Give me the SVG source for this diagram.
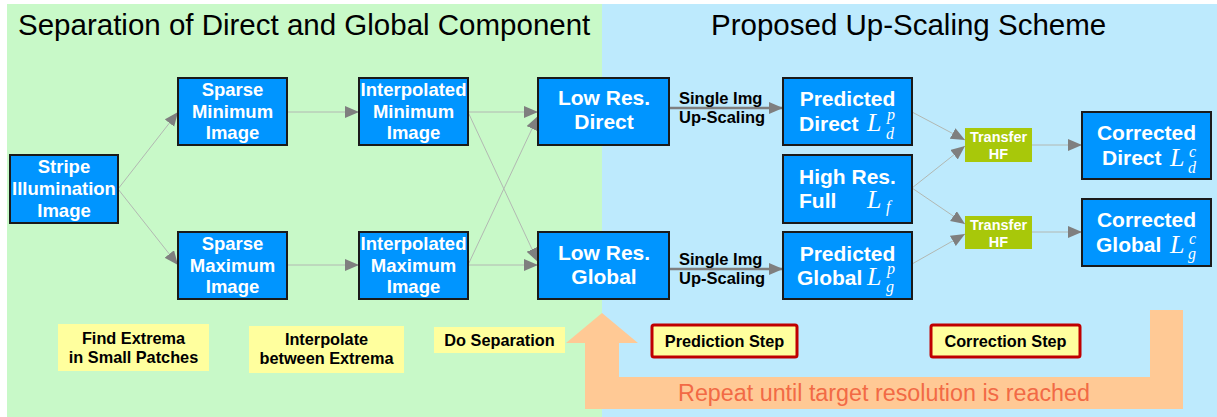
<svg xmlns="http://www.w3.org/2000/svg" width="1217" height="417" viewBox="0 0 1217 417">
<defs>
<style>
.title{font-family:"Liberation Sans",Arial,sans-serif;font-size:29.5px;fill:#000}
.node rect{fill:#0095ff;stroke:#1a1a1a;stroke-width:2}
.nt{font-family:"Liberation Sans",Arial,sans-serif;font-weight:bold;font-size:18.5px;fill:#fff;text-anchor:middle}
.nt2{font-family:"Liberation Sans",Arial,sans-serif;font-weight:bold;font-size:21px;fill:#fff}
.math{font-family:"Liberation Serif","Times New Roman",serif;font-style:italic;fill:#fff}
.tf rect{fill:#a8c80a}
.tft{font-family:"Liberation Sans",Arial,sans-serif;font-weight:bold;font-size:14.5px;fill:#fff;text-anchor:middle}
.note rect{fill:#ffff9e}
.nb{font-family:"Liberation Sans",Arial,sans-serif;font-weight:bold;font-size:16.3px;fill:#000;text-anchor:middle}
.step rect{fill:#ffff9e;stroke:#c00000;stroke-width:3}
.thin{stroke:#b2b8b2;stroke-width:1;fill:none}
.thick{stroke:#7f7f7f;stroke-width:2.5;fill:none}
.lbl{font-family:"Liberation Sans",Arial,sans-serif;font-weight:bold;font-size:16.5px;fill:#000}
</style>
<marker id="ah" markerUnits="userSpaceOnUse" markerWidth="15" markerHeight="13" refX="14" refY="6" orient="auto">
<path d="M0,0 L14,6 L0,12 z" fill="#7f7f7f"/>
</marker>
</defs>
<rect x="0" y="0" width="1217" height="417" fill="#fff"/>
<rect x="7" y="4" width="595" height="413" fill="#c8f9c8"/>
<rect x="602" y="4" width="615" height="413" fill="#bdeafd"/>
<text class="title" x="18" y="35">Separation of Direct and Global Component</text>
<text class="title" x="711" y="35">Proposed Up-Scaling Scheme</text>

<g id="repeat-arrow">
<polygon points="602,313 638,343 619,343 619,377 1150,377 1150,310 1183,310 1183,409 585,409 585,343 566,343" fill="#ffc995"/>
<text x="884" y="401" font-family="'Liberation Sans',Arial,sans-serif" font-size="23.3" fill="#f26a45" text-anchor="middle">Repeat until target resolution is reached</text>
</g>

<g id="connectors">
<line class="thin" x1="118" y1="189" x2="178" y2="112" marker-end="url(#ah)"/>
<line class="thin" x1="118" y1="189" x2="178" y2="265" marker-end="url(#ah)"/>
<line class="thin" x1="287" y1="112" x2="359" y2="112" marker-end="url(#ah)"/>
<line class="thin" x1="287" y1="265" x2="359" y2="265" marker-end="url(#ah)"/>
<line class="thin" x1="468" y1="112" x2="538" y2="112" marker-end="url(#ah)"/>
<line class="thin" x1="468" y1="112" x2="538" y2="262" marker-end="url(#ah)"/>
<line class="thin" x1="468" y1="265" x2="538" y2="116" marker-end="url(#ah)"/>
<line class="thin" x1="468" y1="265" x2="538" y2="265" marker-end="url(#ah)"/>
<line class="thick" x1="669" y1="108" x2="783" y2="108" marker-end="url(#ah)"/>
<line class="thick" x1="669" y1="269" x2="783" y2="269" marker-end="url(#ah)"/>
<line class="thin" x1="912" y1="112" x2="965" y2="140" marker-end="url(#ah)"/>
<line class="thin" x1="912" y1="188" x2="965" y2="146" marker-end="url(#ah)"/>
<line class="thin" x1="912" y1="188" x2="965" y2="224" marker-end="url(#ah)"/>
<line class="thin" x1="912" y1="264" x2="965" y2="234" marker-end="url(#ah)"/>
<line class="thin" x1="1032" y1="145" x2="1082" y2="145" marker-end="url(#ah)"/>
<line class="thin" x1="1032" y1="232" x2="1082" y2="232" marker-end="url(#ah)"/>
<text class="lbl" x="679" y="104">Single Img</text>
<text class="lbl" x="679" y="123">Up-Scaling</text>
<text class="lbl" x="679" y="265">Single Img</text>
<text class="lbl" x="679" y="284">Up-Scaling</text>
</g>

<g id="stripe" class="node"><rect x="10" y="155" width="108" height="68"/>
<text class="nt" x="64" y="173">Stripe</text><text class="nt" x="64" y="195">Illumination</text><text class="nt" x="64" y="217">Image</text></g>
<g id="sparse-min" class="node"><rect x="178" y="78" width="109" height="67"/>
<text class="nt" x="232.5" y="96">Sparse</text><text class="nt" x="232.5" y="118">Minimum</text><text class="nt" x="232.5" y="139">Image</text></g>
<g id="sparse-max" class="node"><rect x="178" y="232" width="109" height="67"/>
<text class="nt" x="232.5" y="250">Sparse</text><text class="nt" x="232.5" y="272">Maximum</text><text class="nt" x="232.5" y="293">Image</text></g>
<g id="interp-min" class="node"><rect x="359" y="78" width="109" height="67"/>
<text class="nt" x="413.5" y="96">Interpolated</text><text class="nt" x="413.5" y="118">Minimum</text><text class="nt" x="413.5" y="139">Image</text></g>
<g id="interp-max" class="node"><rect x="359" y="232" width="109" height="67"/>
<text class="nt" x="413.5" y="250">Interpolated</text><text class="nt" x="413.5" y="272">Maximum</text><text class="nt" x="413.5" y="293">Image</text></g>
<g id="lowres-direct" class="node"><rect x="538" y="78" width="131" height="67"/>
<text class="nt2" x="604" y="105" text-anchor="middle">Low Res.</text><text class="nt2" x="604" y="129" text-anchor="middle">Direct</text></g>
<g id="lowres-global" class="node"><rect x="538" y="232" width="131" height="67"/>
<text class="nt2" x="604" y="260" text-anchor="middle">Low Res.</text><text class="nt2" x="604" y="284" text-anchor="middle">Global</text></g>

<g id="pred-direct" class="node"><rect x="783" y="78" width="129" height="67"/>
<text class="nt2" x="847.5" y="106" text-anchor="middle">Predicted</text><text class="nt2" x="799" y="131">Direct</text>
<text class="math" x="867" y="131" font-size="26">L</text><text class="math" x="887" y="120" font-size="16">p</text><text class="math" x="886" y="139" font-size="16">d</text></g>
<g id="highres-full" class="node"><rect x="783" y="155" width="129" height="68"/>
<text class="nt2" x="799" y="184">High Res.</text><text class="nt2" x="799" y="208">Full</text>
<text class="math" x="867" y="208" font-size="26">L</text><text class="math" x="886" y="212" font-size="16">f</text></g>
<g id="pred-global" class="node"><rect x="783" y="232" width="129" height="67"/>
<text class="nt2" x="847.5" y="261" text-anchor="middle">Predicted</text><text class="nt2" x="797" y="285">Global</text>
<text class="math" x="867" y="285" font-size="26">L</text><text class="math" x="887" y="274" font-size="16">p</text><text class="math" x="886" y="292" font-size="16">g</text></g>

<g id="transfer1" class="tf"><rect x="965" y="128" width="67" height="34"/>
<text class="tft" x="998.5" y="142">Transfer</text><text class="tft" x="998.5" y="159">HF</text></g>
<g id="transfer2" class="tf"><rect x="965" y="216" width="67" height="33"/>
<text class="tft" x="998.5" y="230">Transfer</text><text class="tft" x="998.5" y="247">HF</text></g>

<g id="corr-direct" class="node"><rect x="1082" y="112" width="129" height="67"/>
<text class="nt2" x="1146.5" y="140" text-anchor="middle">Corrected</text><text class="nt2" x="1102" y="165">Direct</text>
<text class="math" x="1170" y="166" font-size="26">L</text><text class="math" x="1189" y="157" font-size="16">c</text><text class="math" x="1188" y="173" font-size="16">d</text></g>
<g id="corr-global" class="node"><rect x="1082" y="199" width="129" height="67"/>
<text class="nt2" x="1146.5" y="227" text-anchor="middle">Corrected</text><text class="nt2" x="1096" y="252">Global</text>
<text class="math" x="1170" y="253" font-size="26">L</text><text class="math" x="1189" y="244" font-size="16">c</text><text class="math" x="1188" y="259" font-size="16">g</text></g>

<g id="note-find" class="note"><rect x="58" y="324" width="151" height="47"/>
<text class="nb" x="133.5" y="344">Find Extrema</text><text class="nb" x="133.5" y="363">in Small Patches</text></g>
<g id="note-interp" class="note"><rect x="249" y="326" width="155" height="47"/>
<text class="nb" x="326.5" y="345">Interpolate</text><text class="nb" x="326.5" y="364">between Extrema</text></g>
<g id="note-sep" class="note"><rect x="434" y="327" width="131" height="26"/>
<text class="nb" x="499.5" y="346">Do Separation</text></g>
<g id="step-pred" class="step"><rect x="652" y="325" width="145" height="32" rx="2"/>
<text class="nb" x="724.5" y="347">Prediction Step</text></g>
<g id="step-corr" class="step"><rect x="931" y="325" width="149" height="32" rx="2"/>
<text class="nb" x="1005.5" y="347">Correction Step</text></g>
</svg>
